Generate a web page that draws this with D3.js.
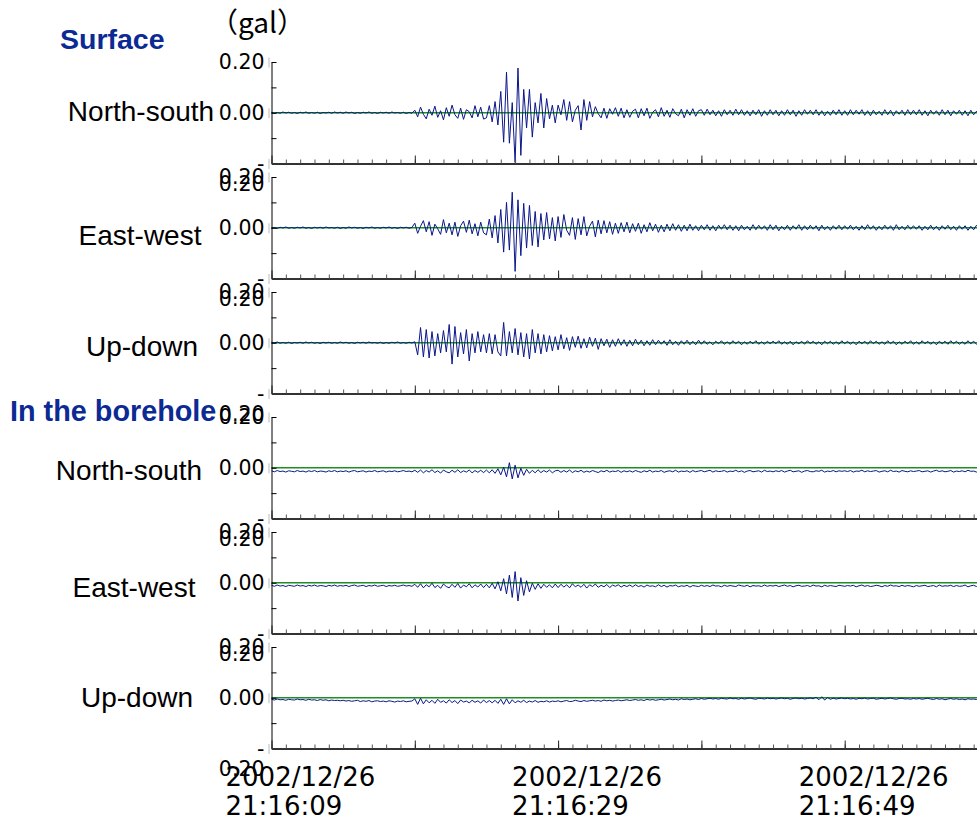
<!DOCTYPE html>
<html>
<head>
<meta charset="utf-8">
<script src="https://cdn.jsdelivr.net/npm/d3@7"></script>
<style>
  body { margin: 0; background: #fff; }
  svg { display: block; }
</style>
</head>
<body>
<script>
// section titles and channel names, top to bottom
var sections = ["Surface", "In the borehole"];
var channels = ["North-south", "East-west", "Up-down", "North-south", "East-west", "Up-down"];

// y axis (gal)
var yTicks = [0.2, 0.1, 0, -0.1, -0.2];
var yLabelled = [0.2, 0, -0.2];

// time axis
var startTime = new Date(2002, 11, 26, 21, 16, 9);
var spanSeconds = 50;
var labelSeconds = [0, 20, 40];
var sampleStep = 0.2; // seconds between the samples below

// acceleration, in 1/1000 gal, one value every 0.2 s
var surfaceNS = [
  2,-3,1,-2,3,-1,2,-2,1,-3,2,-1,3,-2,1,-2,2,-3,1,-1,2,-2,3,-1,2,
  -2,3,-1,2,-3,1,-2,2,-1,3,-2,1,-3,2,-1,2,-2,3,-1,1,-2,2,-3,1,-2,
  10,-16,22,-6,-24,14,-10,26,-18,8,-28,20,-14,30,-8,-22,18,-26,12,4,-20,28,-16,22,-25,
  -20,28,-36,44,-48,84,-116,160,-120,40,-196,176,-168,92,-60,92,-96,40,-40,76,-60,56,-24,30,-40,
  30,-8,52,-30,44,-36,10,28,-68,52,-30,44,-16,24,-4,-20,18,-22,16,-6,20,-14,18,-20,12,
  -18,6,14,-20,16,-12,18,-22,2,12,-16,20,-14,10,-18,16,-4,-12,14,-20,12,-10,16,-14,8,
  12,-10,14,-8,10,-12,8,-14,12,-8,10,-10,14,-8,12,-10,8,-12,10,-8,12,-14,8,-10,12,
  -8,10,-12,8,-10,12,-8,10,-14,8,-10,12,-6,10,-8,12,-10,8,-12,6,-10,10,-8,12,-10,
  8,-10,12,-8,10,-6,12,-10,8,-12,10,-8,6,-10,12,-8,10,-12,8,-6,10,-10,12,-8,10,
  -8,12,-10,8,-12,10,-6,8,-10,12,-8,10,-12,8,-6,10,-10,8,-12,10,-8,6,-10,12,-8
];
var surfaceEW = [
  -2,1,-3,2,-1,3,-2,1,-2,2,-1,3,-2,1,-3,2,-1,2,-2,3,-1,1,-2,2,-3,
  1,-2,3,-1,2,-2,1,-3,2,-1,3,-2,1,-2,2,-1,3,-2,1,-3,2,-1,2,-2,1,
  18,-22,6,28,-16,24,-30,14,-4,-26,32,-20,18,-28,22,-34,8,26,-18,30,-24,16,-32,22,-20,
  -28,34,-40,48,-60,72,-96,100,-88,140,-172,110,-110,96,-80,88,-70,64,-76,56,-48,60,-44,40,-52,
  44,-38,52,-10,-30,40,-46,36,-28,44,-32,6,26,-36,30,-24,28,-20,24,-26,18,-22,20,-16,22,
  -20,16,-14,18,-22,12,-16,20,-12,14,-18,10,-16,14,-12,16,-10,12,-14,10,-12,14,-10,8,-12,
  10,-8,12,-10,8,-12,10,-6,12,-8,10,-10,8,-12,10,-8,6,-10,12,-8,10,-6,8,-10,12,
  -8,10,-12,6,-8,10,-10,8,-6,12,-10,8,-8,10,-6,8,-12,10,-8,6,-10,8,-6,10,-8,
  8,-6,10,-8,6,-10,8,-8,12,-6,8,-10,6,-8,10,-6,8,-10,12,-8,6,-8,10,-6,8,
  -6,8,-10,6,-8,10,-8,6,-10,8,-6,10,-8,6,-10,8,-6,8,-10,6,-8,10,-6,8,-8
];
var surfaceUD = [
  2,-1,3,-2,1,-2,2,-3,1,-1,2,-2,3,-1,2,-2,1,-3,2,-1,2,-2,1,-2,3,
  -1,2,-2,1,-3,2,-1,2,-2,3,-1,1,-2,2,-3,1,-2,2,-1,3,-2,1,-2,2,-1,
  4,-48,60,-56,52,-60,44,-52,36,-40,48,-36,72,-84,64,-56,40,-44,52,-72,36,-40,44,-36,32,
  -40,36,-44,32,-36,-52,80,-52,44,-40,56,-48,40,-56,36,-64,52,-40,36,-44,32,-36,28,-32,24,
  -28,32,-24,20,-30,24,-18,26,-22,16,-20,22,-14,18,-26,16,-12,14,-18,12,-14,16,-10,12,-14,
  10,-12,14,-8,10,-12,8,-10,12,-8,10,-6,8,-10,12,-8,6,-10,8,-6,10,-8,6,-8,10,
  -6,8,-6,4,-8,6,-4,8,-6,4,-6,8,-4,6,-8,4,-6,6,-4,8,-6,4,-6,6,-4,
  6,-4,8,-6,4,-6,6,-8,4,-4,6,-6,8,-4,6,-6,4,-8,6,-4,6,-6,4,-6,8,
  -4,6,-6,4,-8,6,-4,6,-6,8,-4,6,-6,4,-6,8,-4,6,-8,4,-6,6,-4,8,-6,
  4,-6,8,-4,6,-6,4,-8,6,-4,6,-6,8,-4,6,-6,4,-6,8,-4,6,-6,4,-8,6
];
var boreholeNS = [
  -12,-16,-11,-15,-13,-17,-12,-14,-16,-11,-15,-13,-17,-12,-15,-11,-16,-13,-14,-17,-12,-15,-11,-16,-13,
  -15,-12,-17,-13,-11,-16,-14,-12,-17,-13,-15,-11,-16,-14,-12,-17,-13,-15,-12,-16,-14,-11,-15,-13,-16,
  -10,-18,-9,-20,-11,-17,-8,-19,-12,-21,-9,-16,-20,-10,-18,-8,-19,-12,-17,-9,-20,-11,-18,-10,-19,
  -9,-20,-8,-22,-4,-28,2,-36,20,-44,10,-40,-2,-30,-6,-22,-10,-20,-8,-19,-11,-17,-9,-20,-12,
  -10,-18,-11,-17,-9,-19,-12,-16,-10,-18,-13,-17,-11,-15,-19,-12,-16,-10,-17,-13,-15,-11,-18,-12,-16,
  -12,-17,-11,-15,-18,-12,-16,-10,-17,-13,-15,-11,-18,-14,-12,-16,-10,-17,-13,-15,-12,-18,-11,-16,-13,
  -11,-16,-13,-10,-17,-12,-15,-14,-11,-17,-13,-15,-10,-16,-12,-18,-13,-11,-16,-14,-12,-17,-10,-15,-13,
  -16,-12,-15,-11,-17,-13,-10,-16,-14,-12,-18,-13,-11,-15,-16,-12,-14,-10,-17,-13,-15,-11,-16,-12,-14,
  -12,-15,-11,-17,-13,-14,-10,-16,-12,-15,-13,-11,-17,-14,-12,-16,-10,-15,-13,-17,-11,-14,-16,-12,-15,
  -13,-11,-16,-14,-12,-17,-13,-10,-15,-12,-16,-14,-11,-17,-13,-15,-12,-16,-10,-14,-13,-17,-11,-15,-12
];
var boreholeEW = [
  -10,-14,-9,-13,-11,-15,-10,-12,-14,-9,-13,-11,-15,-10,-13,-9,-14,-11,-12,-15,-10,-13,-9,-14,-11,
  -13,-10,-15,-11,-9,-14,-12,-10,-15,-11,-13,-9,-14,-12,-10,-15,-11,-13,-10,-14,-12,-9,-13,-11,-14,
  -6,-18,-4,-20,-8,-16,-2,-19,-10,-22,-5,-15,-20,-6,-18,-3,-21,-9,-16,-4,-20,-8,-17,-5,-19,
  -6,-20,-2,-24,4,-32,16,-44,30,-58,44,-72,20,-50,8,-36,-2,-26,-4,-22,-6,-18,-8,-20,-5,
  -19,-6,-17,-8,-20,-4,-16,-9,-18,-6,-21,-8,-15,-5,-18,-10,-16,-7,-19,-9,-14,-8,-17,-10,-15,
  -9,-16,-8,-15,-11,-17,-9,-14,-12,-16,-8,-15,-10,-17,-11,-13,-9,-16,-12,-14,-10,-17,-11,-13,-15,
  -10,-14,-11,-15,-9,-13,-12,-16,-10,-14,-11,-13,-15,-9,-12,-14,-10,-16,-11,-13,-12,-15,-9,-14,-11,
  -13,-10,-15,-12,-9,-14,-11,-16,-12,-10,-14,-13,-11,-15,-9,-13,-12,-16,-10,-14,-11,-13,-15,-10,-12,
  -14,-11,-13,-10,-16,-12,-9,-14,-11,-15,-13,-10,-12,-16,-11,-14,-9,-13,-12,-15,-10,-14,-11,-13,-16,
  -11,-14,-12,-10,-15,-13,-11,-16,-9,-14,-12,-13,-10,-15,-11,-14,-13,-9,-16,-12,-10,-15,-11,-13,-14
];
var boreholeUD = [
  -6,-9,-5,-8,-7,-10,-6,-8,-9,-5,-8,-7,-10,-6,-9,-8,-11,-7,-10,-8,-12,-9,-11,-10,-12,
  -10,-13,-11,-14,-12,-10,-15,-12,-14,-11,-16,-13,-12,-15,-13,-16,-12,-14,-17,-13,-15,-12,-16,-14,-13,
  -4,-26,-2,-24,-8,-20,-10,-22,-6,-18,-12,-21,-8,-19,-11,-23,-9,-17,-13,-20,-10,-18,-12,-21,-9,
  -19,-11,-20,-10,-22,-6,-26,-4,-24,-8,-20,-12,-18,-10,-19,-13,-17,-11,-18,-14,-16,-12,-17,-13,-15,
  -12,-16,-13,-11,-15,-14,-10,-13,-15,-11,-14,-12,-10,-13,-11,-14,-9,-12,-10,-13,-11,-9,-12,-10,-8,
  -11,-9,-7,-10,-8,-11,-6,-9,-7,-10,-8,-6,-9,-7,-5,-8,-6,-9,-4,-7,-5,-8,-6,-4,-7,
  -3,-6,-4,-2,-5,-3,-6,-2,-4,-5,-1,-4,-3,-6,-2,-5,-3,-1,-4,-6,-2,-3,-5,-1,-4,
  -2,-5,-3,-1,-4,-2,-6,-3,-1,-4,-2,-5,-3,-1,-4,2,-8,4,-9,1,-6,-2,-5,-3,-1,
  -4,-2,-5,-3,-6,-2,-4,-1,-5,-3,-2,-6,-4,-2,-5,-3,-1,-4,-6,-3,-2,-5,-4,-6,-3,
  -5,-3,-6,-4,-2,-5,-7,-3,-6,-4,-8,-5,-3,-6,-4,-7,-5,-8,-4,-6,-5,-7,-3,-6,-5
];
var traces = [surfaceNS, surfaceEW, surfaceUD, boreholeNS, boreholeEW, boreholeUD];

// layout
var width = 977, height = 818;
var axisX = 271.5;
var pxPerSecond = 14.33;
var panelTops = [62, 177, 292, 417, 532, 647];
var panelHeight = 101.5;
var labelCenters = [141, 140, 142, 129, 134, 137];
var labelDrops = [8, 17, 13, 12, 14, 9];

var blue = "#0a168a";
var green = "#1f8f1f";
var titleBlue = "#0c2a94";

var svg = d3.select("body")
            .append("svg")
            .attr("width", width)
            .attr("height", height);

var x = d3.scaleTime()
          .domain([startTime, d3.timeSecond.offset(startTime, spanSeconds)])
          .range([axisX, axisX + spanSeconds * pxPerSecond]);

function secondsAfter(s) { return new Date(+startTime + s * 1000); }

var minorTimes = d3.range(0, spanSeconds + 1).map(secondsAfter);
var majorTimes = d3.range(0, spanSeconds + 1, 10).map(secondsAfter);

// unit label and section titles
svg.append("text")
   .attr("x", 210)
   .attr("y", 33)
   .style("font-family", "'Noto Sans CJK JP', sans-serif")
   .style("font-size", "28px")
   .text("（gal）");

svg.append("text")
   .attr("x", 60).attr("y", 49)
   .style("font-family", "'Liberation Sans', Arial, sans-serif")
   .style("font-size", "28.5px").style("font-weight", "bold")
   .style("fill", titleBlue)
   .text(sections[0]);

svg.append("text")
   .attr("x", 10).attr("y", 421)
   .style("font-family", "'Liberation Sans', Arial, sans-serif")
   .style("font-size", "28.8px").style("font-weight", "bold")
   .style("fill", titleBlue)
   .text(sections[1]);

channels.forEach(function (name, i) {
  var top = panelTops[i];
  var y = d3.scaleLinear().domain([-0.2, 0.2]).range([top + panelHeight, top]);
  var g = svg.append("g");

  // channel name
  g.append("text")
   .attr("x", labelCenters[i])
   .attr("y", y(0) + labelDrops[i])
   .attr("text-anchor", "middle")
   .style("font-family", "'Liberation Sans', Arial, sans-serif")
   .style("font-size", "28px")
   .text(name);

  // zero line
  g.append("line")
   .attr("x1", axisX).attr("x2", width)
   .attr("y1", y(0)).attr("y2", y(0))
   .style("stroke", green)
   .style("stroke-width", 1.5);

  // waveform
  var line = d3.line()
               .x(function (d, k) { return x(secondsAfter(k * sampleStep)); })
               .y(function (d) { return y(d / 1000); });

  g.append("path")
   .datum(traces[i])
   .attr("d", line)
   .style("fill", "none")
   .style("stroke", blue)
   .style("stroke-width", 1)
   .style("stroke-linejoin", "round");

  // y axis, ticks pointing inward
  var yAxis = d3.axisLeft(y)
                .tickValues(yTicks)
                .tickSizeInner(-5)
                .tickSizeOuter(0)
                .tickPadding(7)
                .tickFormat(function (d) { return yLabelled.indexOf(d) >= 0 ? d3.format(".2f")(Math.abs(d)) : ""; });

  var ya = g.append("g")
            .attr("transform", "translate(" + axisX + ",0)")
            .call(yAxis);
  ya.select(".domain").style("stroke", "#000");
  ya.selectAll(".tick line").style("stroke", "#000");
  ya.selectAll(".tick text")
    .style("font-family", "'DejaVu Sans', sans-serif")
    .style("font-size", "20.5px")
    .style("fill", "#000");
  // negative label wraps: "-" on the tick, the number one line below
  ya.selectAll(".tick text")
    .filter(function (d) { return d === -0.2; })
    .each(function (d) {
      var t = d3.select(this);
      var num = t.text();
      t.text("-");
      t.append("tspan").attr("x", -7).attr("dy", "1em").text(num);
    });
  ya.selectAll(".tick")
    .filter(function (d) { return yLabelled.indexOf(d) >= 0; })
    .append("line")
    .attr("x1", -2.5).attr("x2", -2.5)
    .attr("y1", -5).attr("y2", 5)
    .style("stroke", "#bbb");

  // time axis: minor ticks every second, major every 10 s
  var xMinor = d3.axisBottom(x).tickValues(minorTimes).tickSizeInner(-4).tickSizeOuter(0).tickFormat("");
  var xMajor = d3.axisBottom(x).tickValues(majorTimes).tickSizeInner(-8).tickSizeOuter(0).tickFormat("");

  var xa = g.append("g")
            .attr("transform", "translate(0," + (top + panelHeight) + ")")
            .call(xMinor);
  xa.select(".domain").style("stroke", "#333").style("stroke-width", 2);
  xa.selectAll(".tick line").style("stroke", "#555");

  var xb = g.append("g")
            .attr("transform", "translate(0," + (top + panelHeight) + ")")
            .call(xMajor);
  xb.select(".domain").remove();
  xb.selectAll(".tick line").style("stroke", "#222");
});

// date/time labels under the last panel
var fmtDate = d3.timeFormat("%Y/%m/%d");
var fmtTime = d3.timeFormat("%H:%M:%S");
var bottom = panelTops[panelTops.length - 1] + panelHeight;

var timeLabels = svg.selectAll(".time-label")
                    .data(labelSeconds.map(secondsAfter))
                    .enter()
                    .append("text")
                    .attr("class", "time-label")
                    .attr("x", function (d) { return x(d) - 46; })
                    .attr("y", bottom + 37)
                    .style("font-family", "'DejaVu Sans', sans-serif")
                    .style("font-size", "26px");

timeLabels.append("tspan").text(function (d) { return fmtDate(d); });
timeLabels.append("tspan")
          .attr("x", function (d) { return x(d) - 46; })
          .attr("dy", 29)
          .text(function (d) { return fmtTime(d); });
</script>
</body>
</html>
